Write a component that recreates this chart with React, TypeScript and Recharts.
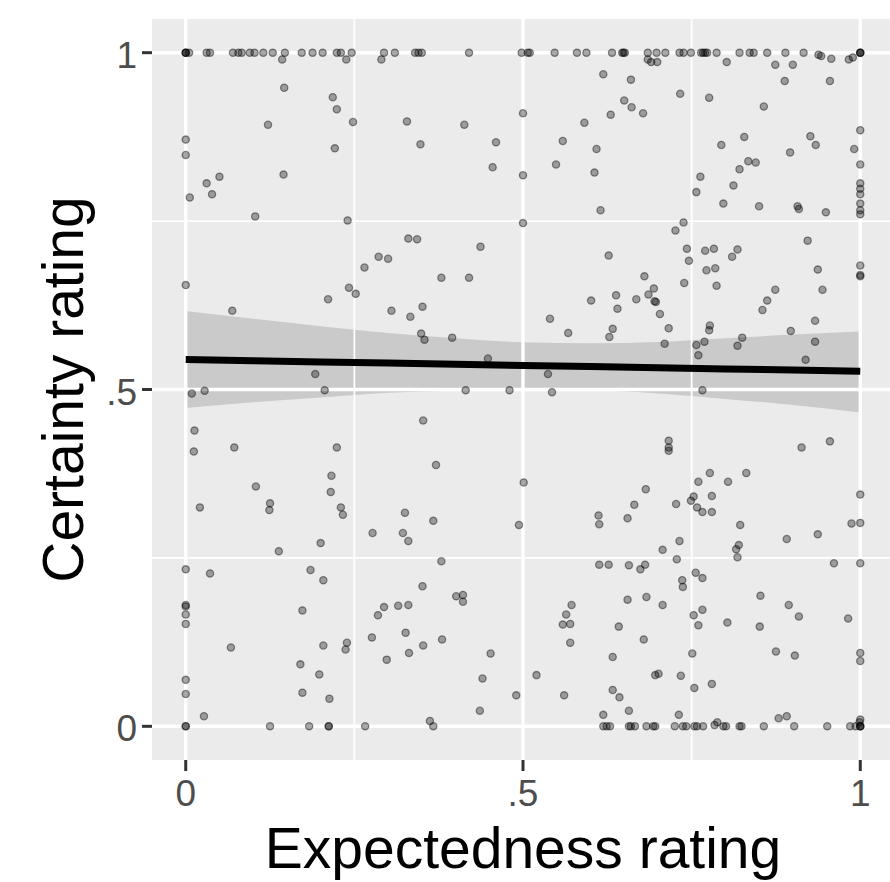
import React from "react";
import {
  ComposedChart,
  XAxis,
  YAxis,
  Scatter,
  Line,
  Area,
  CartesianGrid,
  ReferenceLine,
} from "recharts";

// Points sitting on certainty = 1
const topRowX = [
  0, 0, 0, 0.005, 0.031, 0.036, 0.07, 0.078, 0.083, 0.095, 0.102, 0.115, 0.129,
  0.147, 0.172, 0.188, 0.203, 0.224, 0.23, 0.246, 0.294, 0.31, 0.34, 0.345, 0.35,
  0.42, 0.498, 0.507, 0.51, 0.547, 0.58, 0.594, 0.632, 0.647, 0.649, 0.651, 0.685,
  0.698, 0.711, 0.732, 0.738, 0.749, 0.764, 0.767, 0.77, 0.773, 0.787, 0.821,
  0.836, 0.842, 0.862, 0.889, 0.916, 1, 1, 1,
];

// Points sitting on certainty = 0
const bottomRowX = [
  0, 0, 0.125, 0.183, 0.212, 0.212, 0.266, 0.367, 0.619, 0.624, 0.629, 0.657,
  0.66, 0.666, 0.683, 0.693, 0.696, 0.725, 0.737, 0.742, 0.754, 0.758, 0.767,
  0.797, 0.801, 0.821, 0.824, 0.857, 0.902, 0.951, 0.985, 0.993, 1, 1, 1,
];

// Points near the edges
const edgePoints: [number, number][] = [
  [0.143, 0.99], [0.238, 0.99], [0.29, 0.99], [0.685, 0.99], [0.69, 0.986],
  [0.699, 0.986], [0.802, 0.986], [0.874, 0.982], [0.9, 0.982], [0.938, 0.997],
  [0.942, 0.995], [0.957, 0.991], [0.983, 0.99], [0.989, 0.993],
  [0.027, 0.015], [0.362, 0.008], [0.436, 0.023], [0.619, 0.017], [0.657, 0.023],
  [0.731, 0.017], [0.879, 0.012], [0.891, 0.015], [0.788, 0.006], [0.784, 0.002],
  [1, 0.01], [0.999, 0.006],
];

// Interior points, left half
const leftPoints: [number, number][] = [
  [0.146, 0.948], [0.218, 0.934], [0.224, 0.916], [0.122, 0.893], [0.248, 0.897],
  [0.328, 0.898], [0, 0.871], [0, 0.848], [0.221, 0.858], [0.348, 0.864],
  [0.145, 0.819], [0.05, 0.816], [0.031, 0.806], [0.039, 0.79], [0.006, 0.785],
  [0.103, 0.757], [0.24, 0.751], [0.33, 0.724], [0.343, 0.723], [0.286, 0.697],
  [0.3, 0.694], [0.265, 0.681], [0.379, 0.666], [0, 0.655], [0.242, 0.651],
  [0.252, 0.642], [0.211, 0.634], [0.305, 0.617], [0.351, 0.623], [0.333, 0.608],
  [0.069, 0.617], [0.349, 0.583], [0.354, 0.574], [0.395, 0.577], [0.192, 0.523],
  [0.206, 0.499], [0.009, 0.494], [0.028, 0.498], [0.352, 0.454], [0.013, 0.439],
  [0.072, 0.414], [0.224, 0.414], [0.012, 0.408], [0.371, 0.388], [0.104, 0.356],
  [0.216, 0.372], [0.215, 0.348], [0.125, 0.331], [0.124, 0.321], [0.021, 0.325],
  [0.23, 0.325], [0.233, 0.314], [0.325, 0.317], [0.367, 0.305], [0.277, 0.287],
  [0.322, 0.287], [0.33, 0.275], [0.2, 0.272], [0.138, 0.26], [0.379, 0.245],
  [0, 0.233], [0.036, 0.227], [0.185, 0.232], [0.204, 0.217], [0.351, 0.208],
  [0, 0.18], [0, 0.178], [0, 0.166], [0, 0.152], [0.173, 0.172], [0.294, 0.177],
  [0.285, 0.165], [0.315, 0.179], [0.33, 0.18], [0.326, 0.139], [0.276, 0.132],
  [0.067, 0.117], [0.204, 0.12], [0.239, 0.124], [0.237, 0.114], [0.352, 0.12],
  [0.38, 0.129], [0.331, 0.109], [0.298, 0.099], [0.17, 0.092], [0.198, 0.077],
  [0, 0.069], [0, 0.048], [0.173, 0.05], [0.213, 0.041],
];

// Interior points, right half
const rightPoints: [number, number][] = [
  [0.619, 0.968], [0.66, 0.96], [0.888, 0.958], [0.955, 0.958], [0.733, 0.939],
  [0.776, 0.933], [0.65, 0.929], [0.661, 0.919], [0.678, 0.91], [0.63, 0.908],
  [0.5, 0.91], [0.857, 0.92], [0.413, 0.893], [0.591, 0.896], [0.46, 0.867],
  [0.559, 0.869], [0.609, 0.857], [1, 0.885], [0.828, 0.875], [0.926, 0.876],
  [0.934, 0.863], [0.794, 0.863], [0.991, 0.857], [0.896, 0.852], [0.455, 0.83],
  [0.549, 0.834], [0.606, 0.822], [0.5, 0.818], [0.834, 0.839], [0.845, 0.837],
  [0.821, 0.827], [1, 0.834], [0.763, 0.816], [0.812, 0.803], [0.757, 0.793],
  [1, 0.806], [1, 0.798], [1, 0.79], [1, 0.776], [1, 0.766], [1, 0.76],
  [0.797, 0.776], [0.85, 0.772], [0.907, 0.772], [0.909, 0.768], [0.949, 0.763],
  [0.615, 0.766], [0.5, 0.747], [0.738, 0.748], [0.726, 0.736], [0.437, 0.712],
  [0.922, 0.721], [0.743, 0.709], [0.746, 0.691], [0.77, 0.706], [0.783, 0.709],
  [0.818, 0.708], [0.81, 0.697], [0.627, 0.699], [0.772, 0.677], [0.785, 0.68],
  [0.787, 0.654], [1, 0.684], [1, 0.67], [1, 0.668], [0.937, 0.678], [0.944, 0.648],
  [0.874, 0.648], [0.862, 0.632], [0.855, 0.618], [0.42, 0.666], [0.68, 0.668],
  [0.739, 0.658], [0.694, 0.65], [0.686, 0.641], [0.695, 0.631], [0.697, 0.63],
  [0.638, 0.64], [0.64, 0.62], [0.601, 0.632], [0.668, 0.634], [0.703, 0.612],
  [0.54, 0.605], [0.567, 0.584], [0.633, 0.59], [0.628, 0.578], [0.716, 0.591],
  [0.777, 0.595], [0.776, 0.588], [0.933, 0.602], [0.933, 0.571], [0.897, 0.587],
  [0.825, 0.577], [0.818, 0.565], [0.71, 0.568], [0.757, 0.566], [0.769, 0.571],
  [0.76, 0.551], [0.448, 0.546], [0.919, 0.544], [0.537, 0.523], [0.415, 0.499],
  [0.48, 0.499], [0.543, 0.496], [0.766, 0.499], [0.716, 0.424], [0.716, 0.414],
  [0.716, 0.409], [0.913, 0.414], [0.955, 0.423], [0.501, 0.362], [0.494, 0.299],
  [0.777, 0.376], [0.831, 0.376], [0.76, 0.363], [0.804, 0.363], [0.682, 0.352],
  [0.753, 0.341], [0.749, 0.335], [0.78, 0.342], [0.727, 0.33], [0.665, 0.329],
  [0.758, 0.325], [0.766, 0.318], [0.78, 0.318], [0.612, 0.313], [0.613, 0.3],
  [0.655, 0.309], [0.822, 0.299], [1, 0.344], [0.987, 0.301], [1, 0.302],
  [0.937, 0.285], [0.891, 0.278], [0.732, 0.275], [0.707, 0.262], [0.82, 0.269],
  [0.816, 0.263], [0.818, 0.251], [0.728, 0.248], [0.613, 0.24], [0.627, 0.24],
  [0.657, 0.239], [0.681, 0.24], [0.674, 0.233], [0.961, 0.242], [1, 0.242],
  [0.756, 0.228], [0.766, 0.22], [0.736, 0.217], [0.737, 0.207], [0.401, 0.193],
  [0.411, 0.195], [0.411, 0.185], [0.655, 0.188], [0.683, 0.192], [0.707, 0.18],
  [0.572, 0.18], [0.564, 0.166], [0.559, 0.151], [0.57, 0.152], [0.852, 0.194],
  [0.894, 0.18], [0.909, 0.163], [0.753, 0.165], [0.766, 0.173], [0.76, 0.15],
  [0.803, 0.154], [0.851, 0.148], [0.982, 0.16], [0.642, 0.148], [0.57, 0.124],
  [0.679, 0.129], [0.452, 0.108], [0.633, 0.103], [0.751, 0.108], [0.875, 0.111],
  [0.903, 0.105], [1, 0.109], [1, 0.097], [0.44, 0.071], [0.52, 0.076],
  [0.696, 0.076], [0.701, 0.078], [0.734, 0.075], [0.78, 0.063], [0.754, 0.057],
  [0.49, 0.046], [0.561, 0.046], [0.633, 0.054], [0.643, 0.043],
];

// Fitted line and its confidence band
const fitX = [0, 0.1, 0.2, 0.3, 0.4, 0.5, 0.6, 0.7, 0.8, 0.9, 1];
const fitY = [0.5445, 0.5428, 0.541, 0.5393, 0.5375, 0.5358, 0.534, 0.5323, 0.5305, 0.5288, 0.527];
const bandLow = [0.4725, 0.481, 0.488, 0.495, 0.499, 0.501, 0.4995, 0.494, 0.486, 0.477, 0.466];
const bandHigh = [0.6165, 0.605, 0.594, 0.584, 0.576, 0.57, 0.5685, 0.5705, 0.576, 0.5815, 0.586];

const tickValues = [0, 0.5, 1];
const tickLabels = ["0", ".5", "1"];
const minorValues = [0.25, 0.75];

const scatterData = [
  ...topRowX.map((x) => ({ x, y: 1 })),
  ...bottomRowX.map((x) => ({ x, y: 0 })),
  ...edgePoints.map(([x, y]) => ({ x, y })),
  ...leftPoints.map(([x, y]) => ({ x, y })),
  ...rightPoints.map(([x, y]) => ({ x, y })),
];
const lineData = fitX.map((x, i) => ({ x, y: fitY[i] }));
const bandData = fitX.map((x, i) => ({ x, band: [bandLow[i], bandHigh[i]] }));

const FONT = "'Liberation Sans', Arial, Helvetica, sans-serif";
const fmt = (v: number) => tickLabels[tickValues.indexOf(v)] ?? String(v);

const Dot = (p: any) => (
  <circle
    cx={p.cx}
    cy={p.cy}
    r={3.6}
    fill="rgba(0,0,0,0.34)"
    stroke="rgba(0,0,0,0.42)"
    strokeWidth={1.3}
  />
);

const XTitle = (props: any) => {
  const vb = props.viewBox || {};
  return (
    <text
      x={vb.x + vb.width / 2}
      y={vb.y + 108}
      textAnchor="middle"
      fontSize={57}
      fontFamily={FONT}
      fill="#000"
    >
      Expectedness rating
    </text>
  );
};

const YTitle = (props: any) => {
  const vb = props.viewBox || {};
  const cx = 83;
  const cy = vb.y + vb.height / 2;
  return (
    <text
      x={cx}
      y={cy}
      textAnchor="middle"
      fontSize={57}
      fontFamily={FONT}
      fill="#000"
      transform={`rotate(-90 ${cx} ${cy})`}
    >
      Certainty rating
    </text>
  );
};

export default function App() {
  return (
    <div
      style={{
        position: "absolute",
        left: 0,
        top: 0,
        width: 890,
        height: 882,
        overflow: "hidden",
        background: "#fff",
      }}
    >
      <ComposedChart
        width={900}
        height={882}
        margin={{ top: 19, right: 6, bottom: 0, left: 0 }}
      >
        <CartesianGrid fill="#EBEBEB" horizontal={false} vertical={false} stroke="none" />
        <XAxis
          type="number"
          dataKey="x"
          domain={[-0.05, 1.05]}
          ticks={tickValues}
          tickFormatter={fmt}
          allowDataOverflow
          axisLine={false}
          tickLine={{ stroke: "#333333", strokeWidth: 3 }}
          tickSize={11}
          tickMargin={9}
          height={122}
          tick={{ fontSize: 37, fill: "#4D4D4D", fontFamily: FONT }}
          label={<XTitle />}
        />
        <YAxis
          type="number"
          dataKey="y"
          domain={[-0.05, 1.05]}
          ticks={tickValues}
          tickFormatter={fmt}
          allowDataOverflow
          axisLine={false}
          tickLine={{ stroke: "#333333", strokeWidth: 3 }}
          tickSize={10}
          tickMargin={5}
          width={152}
          tick={{ fontSize: 37, fill: "#4D4D4D", fontFamily: FONT, dy: 2 }}
          label={<YTitle />}
        />
        {minorValues.map((v) => (
          <ReferenceLine key={"mx" + v} x={v} stroke="#FFFFFF" strokeWidth={1.8} />
        ))}
        {minorValues.map((v) => (
          <ReferenceLine key={"my" + v} y={v} stroke="#FFFFFF" strokeWidth={1.8} />
        ))}
        {tickValues.map((v) => (
          <ReferenceLine key={"Mx" + v} x={v} stroke="#FFFFFF" strokeWidth={3.4} />
        ))}
        {tickValues.map((v) => (
          <ReferenceLine key={"My" + v} y={v} stroke="#FFFFFF" strokeWidth={3.4} />
        ))}
        <Scatter
          data={scatterData}
          dataKey="y"
          shape={Dot}
          isAnimationActive={false}
        />
        <Area
          data={bandData}
          dataKey="band"
          type="monotone"
          stroke="none"
          fill="#999999"
          fillOpacity={0.4}
          isAnimationActive={false}
          activeDot={false}
        />
        <Line
          data={lineData}
          dataKey="y"
          type="linear"
          stroke="#000"
          strokeWidth={7}
          dot={false}
          activeDot={false}
          isAnimationActive={false}
        />
      </ComposedChart>
    </div>
  );
}
